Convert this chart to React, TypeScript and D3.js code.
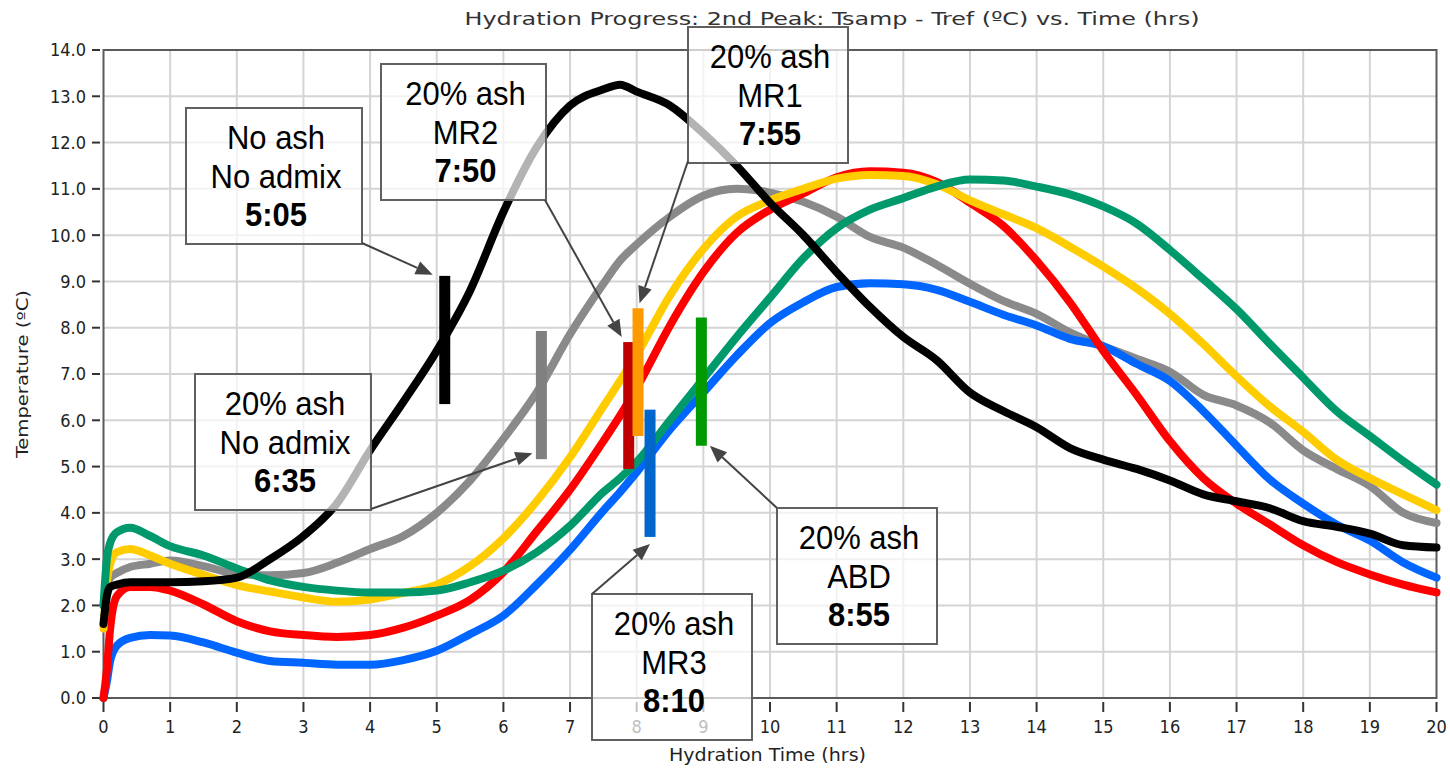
import React from "react";
import * as d3 from "d3";

// sample times (hrs)
const hours = [
  0, 0.05, 0.1, 0.2, 0.4, 0.7, 1, 1.5, 2, 2.5, 3, 3.5, 4, 4.5, 5, 5.5, 6, 6.5, 7,
  7.5, 7.75, 8, 8.5, 9, 9.5, 10, 10.5, 11, 11.5, 12, 12.5, 13, 13.5, 14, 14.5,
  15, 15.5, 16, 16.5, 17, 17.5, 18, 18.5, 19, 19.5, 20,
];

// Tsamp - Tref (ºC) per mix
const noAshNoAdmix = [
  1.6, 2.2, 2.4, 2.45, 2.5, 2.5, 2.5, 2.52, 2.6, 3.0, 3.5, 4.2, 5.35, 6.4, 7.5,
  8.8, 10.5, 11.9, 12.8, 13.15, 13.25, 13.1, 12.8, 12.2, 11.5, 10.7, 10.0, 9.2,
  8.45, 7.8, 7.3, 6.6, 6.2, 5.85, 5.4, 5.15, 4.95, 4.7, 4.4, 4.25, 4.1, 3.82,
  3.7, 3.55, 3.3, 3.25,
];
const ashNoAdmix = [
  2.0, 2.4, 2.6, 2.7, 2.83, 2.9, 2.97, 2.85, 2.68, 2.65, 2.7, 2.92, 3.22, 3.5,
  4.0, 4.7, 5.6, 6.6, 7.86, 8.95, 9.45, 9.8, 10.4, 10.85, 11.0, 10.92, 10.72,
  10.4, 9.96, 9.73, 9.36, 8.95, 8.58, 8.3, 7.9, 7.6, 7.33, 7.05, 6.55, 6.32,
  5.95, 5.35, 4.95, 4.58, 4.0, 3.78,
];
const ashMR2 = [
  0.0, 0.6, 1.5, 2.2, 2.4, 2.4, 2.32, 2.02, 1.66, 1.44, 1.36, 1.32, 1.36, 1.52,
  1.78, 2.12, 2.72, 3.6, 4.5, 5.55, 6.1, 6.7, 8.05, 9.2, 10.05, 10.55, 10.9,
  11.25, 11.38, 11.35, 11.15, 10.7, 10.2, 9.45, 8.55, 7.5, 6.55, 5.55, 4.75, 4.2,
  3.75, 3.3, 2.94, 2.67, 2.45, 2.28,
];
const ashMR1 = [
  1.5, 2.5, 2.9, 3.15, 3.22, 3.08, 2.9, 2.66, 2.44, 2.3, 2.17, 2.08, 2.13, 2.27,
  2.45, 2.85, 3.45, 4.25, 5.2, 6.3, 6.85, 7.42, 8.7, 9.7, 10.4, 10.75, 11.0,
  11.22, 11.3, 11.28, 11.1, 10.75, 10.45, 10.15, 9.75, 9.32, 8.85, 8.3, 7.65,
  6.95, 6.3, 5.75, 5.15, 4.75, 4.4, 4.06,
];
const ashABD = [
  2.0, 3.0, 3.35, 3.58, 3.68, 3.5, 3.28, 3.08, 2.8, 2.54, 2.4, 2.32, 2.28, 2.28,
  2.32, 2.5, 2.75, 3.15, 3.72, 4.45, 4.75, 5.1, 6.0, 6.9, 7.8, 8.65, 9.5, 10.15,
  10.55, 10.8, 11.05, 11.2, 11.18, 11.05, 10.88, 10.62, 10.25, 9.68, 9.05, 8.4,
  7.65, 6.92, 6.2, 5.66, 5.12, 4.61,
];
const ashMR3 = [
  0.0, 0.35, 0.8, 1.13, 1.3, 1.36, 1.35, 1.2, 0.98, 0.8, 0.76, 0.72, 0.72, 0.82,
  1.02, 1.38, 1.78, 2.45, 3.2, 4.05, 4.45, 4.88, 5.8, 6.6, 7.4, 8.1, 8.55, 8.88,
  8.96, 8.94, 8.82, 8.56, 8.28, 8.05, 7.76, 7.6, 7.22, 6.85, 6.2, 5.45, 4.72,
  4.2, 3.75, 3.4, 2.93, 2.6,
];

// drawing order: gray, blue, red, yellow, green, black
const seriesValues = [ashNoAdmix, ashMR3, ashMR2, ashMR1, ashABD, noAshNoAdmix];
const seriesColors = ["#8a8a8a", "#0066ff", "#ff0000", "#ffcc00", "#00996b", "#000000"];

// 2nd peak markers
const markerHours = [5.12, 6.57, 7.88, 8.02, 8.2, 8.97];
const markerLow = [6.35, 5.16, 4.95, 5.66, 3.48, 5.45];
const markerHigh = [9.12, 7.93, 7.69, 8.42, 6.23, 8.22];
const markerColors = ["#000000", "#808080", "#c00000", "#ff9900", "#0066cc", "#009900"];

const yTicks = d3.range(0, 15);
const xTicks = d3.range(0, 21);

// annotation boxes
const noteLines = [
  ["No ash", "No admix", "5:05"],
  ["20% ash", "MR2", "7:50"],
  ["20% ash", "MR1", "7:55"],
  ["20% ash", "No admix", "6:35"],
  ["20% ash", "MR3", "8:10"],
  ["20% ash", "ABD", "8:55"],
];
const noteBoxes = [
  [186, 108, 362, 244],
  [381, 64, 546, 200],
  [688, 27, 848, 163],
  [195, 374, 371, 510],
  [592, 594, 752, 740],
  [777, 508, 937, 644],
];
// arrow: start point, marker index, which end, tip offset
const noteArrows = [
  { sx: 362, sy: 243, m: 0, end: "top", dx: -12, dy: -1 },
  { sx: 545, sy: 200, m: 2, end: "top", dx: -7, dy: -5 },
  { sx: 688, sy: 161, m: 3, end: "top", dx: 1.5, dy: -5 },
  { sx: 371, sy: 509, m: 1, end: "bottom", dx: -9, dy: -6 },
  { sx: 592, sy: 594, m: 4, end: "bottom", dx: 0, dy: 7 },
  { sx: 777, sy: 508, m: 5, end: "bottom", dx: 8.5, dy: 0 },
];

const W = 1450;
const H = 771;
const x = d3.scaleLinear([0, 20], [103.5, 1436.5]);
const y = d3.scaleLinear([0, 14], [698, 50]);

const tickFont = "'DejaVu Sans Condensed', 'DejaVu Sans', sans-serif";
const noteFont = "'Liberation Sans', Arial, sans-serif";

function arrowHead(sx: number, sy: number, tx: number, ty: number) {
  const len = Math.hypot(tx - sx, ty - sy);
  const ux = (tx - sx) / len;
  const uy = (ty - sy) / len;
  const hl = 17;
  const hw = 7;
  const bx = tx - ux * hl;
  const by = ty - uy * hl;
  return {
    bx,
    by,
    pts: `${tx},${ty} ${bx - uy * hw},${by + ux * hw} ${bx + uy * hw},${by - ux * hw}`,
  };
}

export default function App() {
  const line = d3
    .line<number>()
    .x((_, i) => x(hours[i]))
    .y((d) => y(d))
    .curve(d3.curveMonotoneX);

  return (
    <svg
      width={W}
      height={H}
      viewBox={`0 0 ${W} ${H}`}
      style={{ position: "absolute", left: 0, top: 0, background: "#fff" }}
    >
      <rect x={0} y={0} width={W} height={H} fill="#fff" />

      {/* grid */}
      <g stroke="#d4d4d4" strokeWidth={2}>
        {xTicks.slice(1, -1).map((t) => (
          <line key={"gx" + t} x1={x(t)} x2={x(t)} y1={y(14)} y2={y(0)} />
        ))}
        {yTicks.slice(1, -1).map((t) => (
          <line key={"gy" + t} x1={x(0)} x2={x(20)} y1={y(t)} y2={y(t)} />
        ))}
      </g>

      {/* frame */}
      <rect
        x={x(0)}
        y={y(14)}
        width={x(20) - x(0)}
        height={y(0) - y(14)}
        fill="none"
        stroke="#5a5a5a"
        strokeWidth={2}
      />

      {/* y axis */}
      <g fontFamily={tickFont} fontSize={18} fill="#222">
        {yTicks.map((t) => (
          <g key={"yt" + t}>
            <line x1={92} x2={100} y1={y(t)} y2={y(t)} stroke="#333" strokeWidth={2} />
            <text x={86} y={y(t)} dy="0.36em" textAnchor="end">
              {t.toFixed(1)}
            </text>
          </g>
        ))}
      </g>

      {/* x axis */}
      <g fontFamily={tickFont} fontSize={18} fill="#222">
        {xTicks.map((t) => (
          <g key={"xt" + t}>
            <line x1={x(t)} x2={x(t)} y1={702} y2={712} stroke="#333" strokeWidth={2} />
            <text x={x(t)} y={733} textAnchor="middle">
              {t}
            </text>
          </g>
        ))}
      </g>

      <text
        x={22}
        y={374}
        transform="rotate(-90 22 374)"
        textAnchor="middle"
        dominantBaseline="central"
        fontFamily={tickFont}
        fontSize={16}
        fill="#222"
        textLength={168}
        lengthAdjust="spacingAndGlyphs"
      >
        Temperature (ºC)
      </text>
      <text
        x={767.5}
        y={761}
        textAnchor="middle"
        fontFamily={tickFont}
        fontSize={17}
        fill="#222"
        textLength={197}
        lengthAdjust="spacingAndGlyphs"
      >
        Hydration Time (hrs)
      </text>

      {/* curves */}
      <g fill="none" strokeWidth={8} strokeLinejoin="round" strokeLinecap="round">
        {seriesValues.map((vals, i) => (
          <path key={"s" + i} d={line(vals) ?? ""} stroke={seriesColors[i]} />
        ))}
      </g>

      {/* 2nd peak markers */}
      {markerHours.map((h, i) => (
        <rect
          key={"m" + i}
          x={x(h) - 5.5}
          y={y(markerHigh[i])}
          width={11}
          height={y(markerLow[i]) - y(markerHigh[i])}
          fill={markerColors[i]}
        />
      ))}

      {/* title */}
      <text
        x={832}
        y={25}
        textAnchor="middle"
        fontFamily={tickFont}
        fontSize={18}
        fill="#333"
        textLength={735}
        lengthAdjust="spacingAndGlyphs"
      >
        Hydration Progress: 2nd Peak: Tsamp - Tref (ºC) vs. Time (hrs)
      </text>

      {/* annotation boxes */}
      {noteBoxes.map(([x0, y0, x1, y1], i) => (
        <g key={"n" + i}>
          <rect
            x={x0}
            y={y0}
            width={x1 - x0}
            height={y1 - y0}
            fill="#fff"
            fillOpacity={0.7}
            stroke="#606060"
            strokeWidth={2}
          />
          {noteLines[i].map((t, j) => (
            <g
              key={j}
              transform={`translate(${(x0 + x1) / 2 + 2},${y0 + 41 + j * 38.5}) scale(1,1.1)`}
            >
              <text
                x={0}
                y={0}
                textAnchor="middle"
                fontFamily={noteFont}
                fontSize={31}
                fontWeight={j === 2 ? "bold" : "normal"}
                fill="#000"
              >
                {t}
              </text>
            </g>
          ))}
        </g>
      ))}

      {/* arrows */}
      {noteArrows.map((a, i) => {
        const tx = x(markerHours[a.m]) + a.dx;
        const ty = (a.end === "top" ? y(markerHigh[a.m]) : y(markerLow[a.m])) + a.dy;
        const head = arrowHead(a.sx, a.sy, tx, ty);
        return (
          <g key={"a" + i}>
            <line x1={a.sx} y1={a.sy} x2={head.bx} y2={head.by} stroke="#444" strokeWidth={2} />
            <polygon points={head.pts} fill="#444" />
          </g>
        );
      })}
    </svg>
  );
}
